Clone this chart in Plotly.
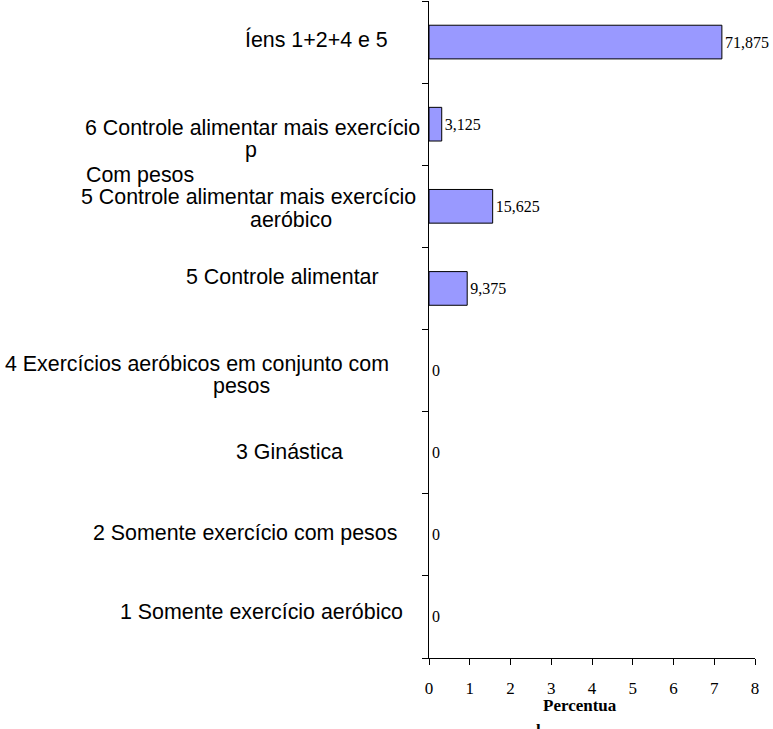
import plotly.graph_objects as go

# Categories (bottom to top) and the share of answers for each, in percent
categories = [
    "1 Somente exercício aeróbico",
    "2 Somente exercício com pesos",
    "3 Ginástica",
    "4 Exercícios aeróbicos em conjunto com<br>pesos",
    "5 Controle alimentar",
    "5 Controle alimentar mais exercício<br>aeróbico",
    "6 Controle alimentar mais exercício<br>p<br>Com pesos",
    "Íens 1+2+4 e 5",
]
percent = [0, 0, 0, 0, 9.375, 15.625, 3.125, 71.875]

# Axis is read in tens of percent
x_tick_values = [0, 10, 20, 30, 40, 50, 60, 70, 80]
x_tick_labels = ["0", "1", "2", "3", "4", "5", "6", "7", "8"]

axis_title_lines = ["Percentua", "l"]

# Page geometry (pixels)
W, H = 773, 729
M_L, M_R, M_T, M_B = 429, 18, 1, 71
PW = W - M_L - M_R
PH = H - M_T - M_B


def px_x(px):
    return (px - M_L) / PW


def px_y(py):
    return (H - M_B - py) / PH


# Centre of every line of each category label, in pixels
label_line_xy = [
    [(261, 612)],
    [(245, 533)],
    [(289, 452)],
    [(197, 364), (241, 386)],
    [(282, 277)],
    [(248, 197), (291, 220)],
    [(252, 128), (251, 150), (139.5, 175)],
    [(316, 39)],
]

value_text = [f"{v:g}".replace(".", ",") for v in percent]
# empty bars get no outline so the axis line stays thin
outline_width = [1 if v > 0 else 0 for v in percent]

fig = go.Figure(
    go.Bar(
        y=categories,
        x=percent,
        orientation="h",
        width=0.41,
        marker=dict(color="#9999FF", line=dict(color="#000000", width=outline_width)),
        text=value_text,
        textposition="outside",
        textfont=dict(family="Liberation Serif", size=16, color="#000000"),
        constraintext="none",
        cliponaxis=False,
        hoverinfo="skip",
    )
)

annotations = []
for cat, xy in zip(categories, label_line_xy):
    for line, (cx, cy) in zip(cat.split("<br>"), xy):
        annotations.append(
            dict(
                text=line,
                x=px_x(cx),
                y=px_y(cy),
                xref="paper",
                yref="paper",
                xanchor="center",
                yanchor="middle",
                showarrow=False,
                font=dict(family="Liberation Sans", size=21.4, color="#000000"),
            )
        )

for line, (cx, cy) in zip(axis_title_lines, [(580, 705), (538, 730)]):
    annotations.append(
        dict(
            text=f"<b>{line}</b>",
            x=px_x(cx),
            y=px_y(cy),
            xref="paper",
            yref="paper",
            xanchor="center",
            yanchor="middle",
            showarrow=False,
            font=dict(family="Liberation Serif", size=17, color="#000000"),
        )
    )

fig.update_layout(
    width=W,
    height=H,
    margin=dict(l=M_L, r=M_R, t=M_T, b=M_B, pad=0),
    paper_bgcolor="#FFFFFF",
    plot_bgcolor="#FFFFFF",
    showlegend=False,
    annotations=annotations,
    xaxis=dict(
        range=[0, 80],
        tickvals=x_tick_values,
        ticktext=x_tick_labels,
        showgrid=False,
        zeroline=False,
        showline=True,
        linecolor="#000000",
        linewidth=1,
        ticks="outside",
        ticklen=6,
        tickcolor="#000000",
        ticklabelstandoff=9,
        tickfont=dict(family="Liberation Serif", size=17, color="#000000"),
        fixedrange=True,
    ),
    yaxis=dict(
        type="category",
        categoryorder="array",
        categoryarray=categories,
        range=[-0.5, len(categories) - 0.5],
        showticklabels=False,
        showgrid=False,
        zeroline=False,
        showline=True,
        linecolor="#000000",
        linewidth=1,
        ticks="outside",
        tickson="boundaries",
        ticklen=6,
        tickcolor="#000000",
        fixedrange=True,
    ),
)

fig.write_html("out.html")
